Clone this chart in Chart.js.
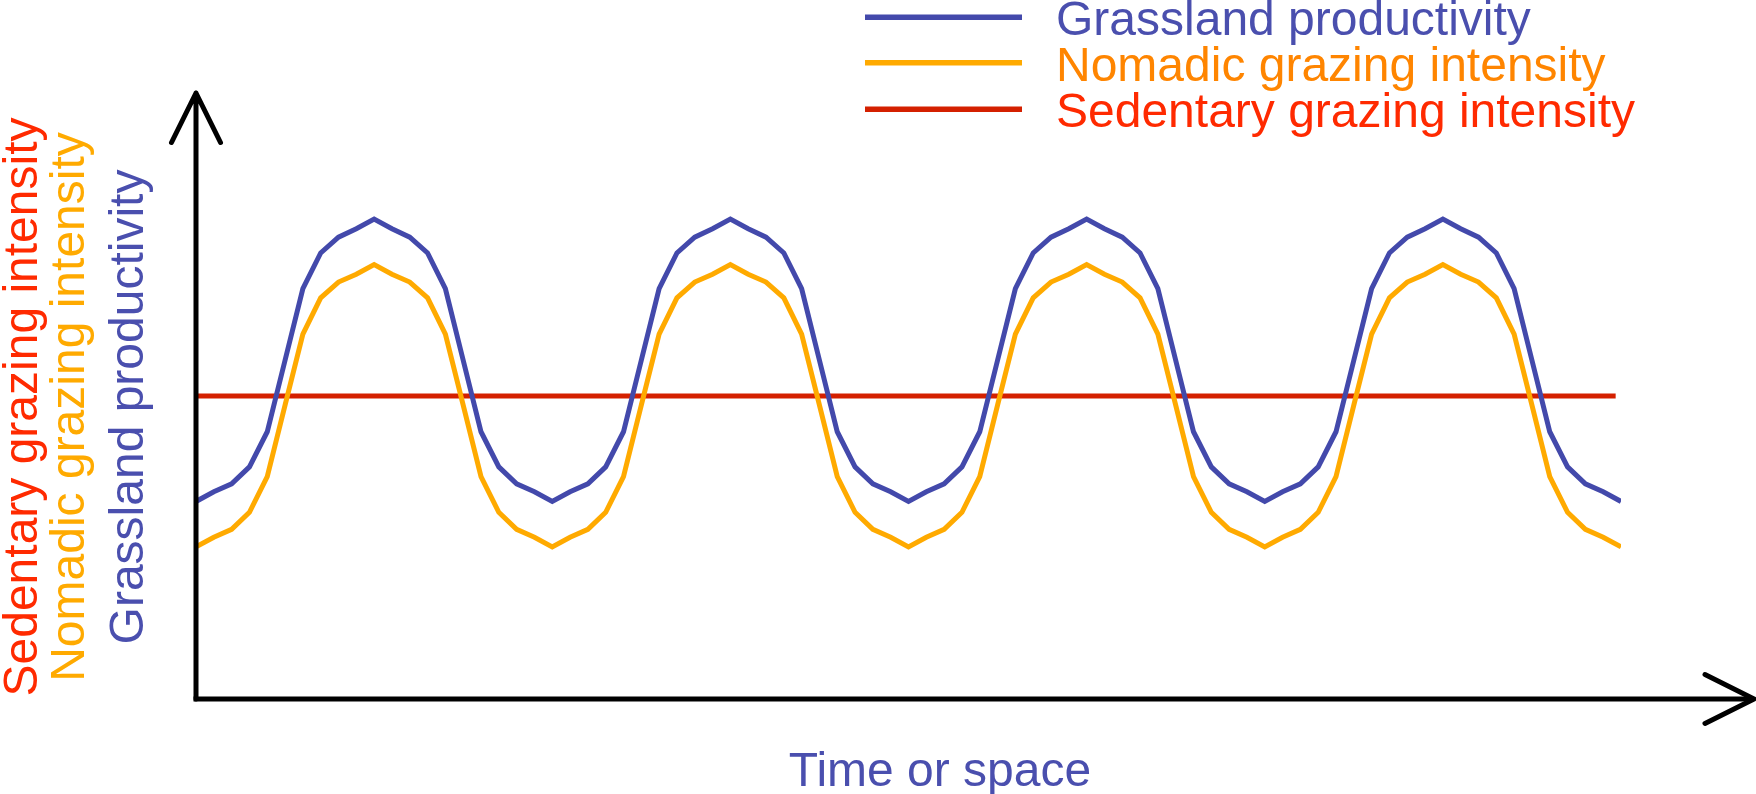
<!DOCTYPE html>
<html>
<head>
<meta charset="utf-8">
<script src="https://cdn.jsdelivr.net/npm/chart.js"></script>
<style>
  html, body { margin: 0; padding: 0; background: #fff; }
  #wrap { width: 1756px; height: 794px; }
</style>
</head>
<body>
<div id="wrap"><canvas id="myChart" width="1756" height="794"></canvas></div>
<script>
// values, y in 0..100 (0 = x axis, 100 = arrow tip)
const grassland = [
  32.6, 34.2, 35.5, 38.3, 44.1, 55.9, 67.7, 73.6, 76.2, 77.6, 79.2, 77.6, 76.2, 73.6, 67.7, 55.9, 44.1, 38.3, 35.5, 34.2,
  32.6, 34.2, 35.5, 38.3, 44.1, 55.9, 67.7, 73.6, 76.2, 77.6, 79.2, 77.6, 76.2, 73.6, 67.7, 55.9, 44.1, 38.3, 35.5, 34.2,
  32.6, 34.2, 35.5, 38.3, 44.1, 55.9, 67.7, 73.6, 76.2, 77.6, 79.2, 77.6, 76.2, 73.6, 67.7, 55.9, 44.1, 38.3, 35.5, 34.2,
  32.6, 34.2, 35.5, 38.3, 44.1, 55.9, 67.7, 73.6, 76.2, 77.6, 79.2, 77.6, 76.2, 73.6, 67.7, 55.9, 44.1, 38.3, 35.5, 34.2,
  32.6
];
const nomadic = [
  25.1, 26.7, 28.0, 30.8, 36.7, 48.5, 60.2, 66.2, 68.8, 70.1, 71.7, 70.1, 68.8, 66.2, 60.2, 48.5, 36.7, 30.8, 28.0, 26.7,
  25.1, 26.7, 28.0, 30.8, 36.7, 48.5, 60.2, 66.2, 68.8, 70.1, 71.7, 70.1, 68.8, 66.2, 60.2, 48.5, 36.7, 30.8, 28.0, 26.7,
  25.1, 26.7, 28.0, 30.8, 36.7, 48.5, 60.2, 66.2, 68.8, 70.1, 71.7, 70.1, 68.8, 66.2, 60.2, 48.5, 36.7, 30.8, 28.0, 26.7,
  25.1, 26.7, 28.0, 30.8, 36.7, 48.5, 60.2, 66.2, 68.8, 70.1, 71.7, 70.1, 68.8, 66.2, 60.2, 48.5, 36.7, 30.8, 28.0, 26.7,
  25.1
];
const sedentaryLevel = 50.0;
const sedentaryRange = [0, 79.7];

const seriesNames = ["Grassland productivity", "Nomadic grazing intensity", "Sedentary grazing intensity"];
const lineColors = ["#4349ab", "#ffaa00", "#d42000"];
const legendTextColors = ["#4a4fae", "#ff8500", "#ff2a00"];
const axisTextColors = ["#4a4fae", "#ffaa00", "#ff2a00"];
const xTitle = "Time or space";

const FONT = '48px "Liberation Sans", Arial, sans-serif';

const axesAndText = {
  id: "axesAndText",
  afterDatasetsDraw(chart) {
    const ctx = chart.ctx;
    const x = chart.scales.x, y = chart.scales.y;
    const x0 = x.getPixelForValue(0);
    const y0 = y.getPixelForValue(0);
    const yTop = y.getPixelForValue(100);
    const xEnd = 1754;

    ctx.save();
    ctx.strokeStyle = "#000";
    ctx.lineWidth = 5;
    ctx.lineCap = "round";
    ctx.lineJoin = "round";
    // y axis with arrow
    ctx.beginPath();
    ctx.moveTo(x0, y0);
    ctx.lineTo(x0, yTop);
    ctx.moveTo(x0 - 24.5, yTop + 49.5);
    ctx.lineTo(x0, yTop);
    ctx.lineTo(x0 + 24.5, yTop + 49.5);
    ctx.stroke();
    // x axis with arrow
    ctx.beginPath();
    ctx.lineCap = "butt";
    ctx.moveTo(x0 - 2.5, y0);
    ctx.lineTo(xEnd, y0);
    ctx.stroke();
    ctx.lineCap = "round";
    ctx.beginPath();
    ctx.moveTo(xEnd - 49, y0 - 24.5);
    ctx.lineTo(xEnd, y0);
    ctx.lineTo(xEnd - 49, y0 + 24.5);
    ctx.stroke();

    // legend
    const legY = [17.3, 62.7, 109.3];
    ctx.font = FONT;
    ctx.textBaseline = "alphabetic";
    ctx.textAlign = "left";
    for (let i = 0; i < 3; i++) {
      ctx.strokeStyle = lineColors[i];
      ctx.lineWidth = 5.5;
      ctx.lineCap = "butt";
      ctx.beginPath();
      ctx.moveTo(865, legY[i]);
      ctx.lineTo(1022, legY[i]);
      ctx.stroke();
      ctx.fillStyle = legendTextColors[i];
      ctx.fillText(seriesNames[i], 1056, legY[i] + 18);
    }

    // rotated y titles
    const titleX = [130, 71, 24];
    ctx.textAlign = "center";
    ctx.textBaseline = "middle";
    for (let i = 0; i < 3; i++) {
      ctx.save();
      ctx.translate(titleX[i], 407);
      ctx.rotate(-Math.PI / 2);
      ctx.fillStyle = axisTextColors[i];
      ctx.fillText(seriesNames[i], 0, 0);
      ctx.restore();
    }

    // x title
    ctx.fillStyle = legendTextColors[0];
    ctx.textBaseline = "alphabetic";
    ctx.fillText(xTitle, 940, 786);
    ctx.restore();
  }
};

new Chart(document.getElementById("myChart"), {
  type: "line",
  data: {
    datasets: [
      {
        label: seriesNames[0],
        data: grassland.map((v, i) => ({ x: i, y: v })),
        borderColor: lineColors[0],
        borderWidth: 5
      },
      {
        label: seriesNames[1],
        data: nomadic.map((v, i) => ({ x: i, y: v })),
        borderColor: lineColors[1],
        borderWidth: 5
      },
      {
        label: seriesNames[2],
        data: sedentaryRange.map(v => ({ x: v, y: sedentaryLevel })),
        borderColor: lineColors[2],
        borderWidth: 5
      }
    ]
  },
  options: {
    responsive: false,
    animation: false,
    devicePixelRatio: 1,
    layout: { padding: { left: 196, right: 135, top: 93, bottom: 95 } },
    elements: { point: { radius: 0 }, line: { tension: 0, borderCapStyle: "butt", borderJoinStyle: "miter" } },
    scales: {
      x: { type: "linear", min: 0, max: 80, display: false },
      y: { min: 0, max: 100, display: false }
    },
    plugins: { legend: { display: false }, tooltip: { enabled: false } }
  },
  plugins: [axesAndText]
});
</script>
</body>
</html>
